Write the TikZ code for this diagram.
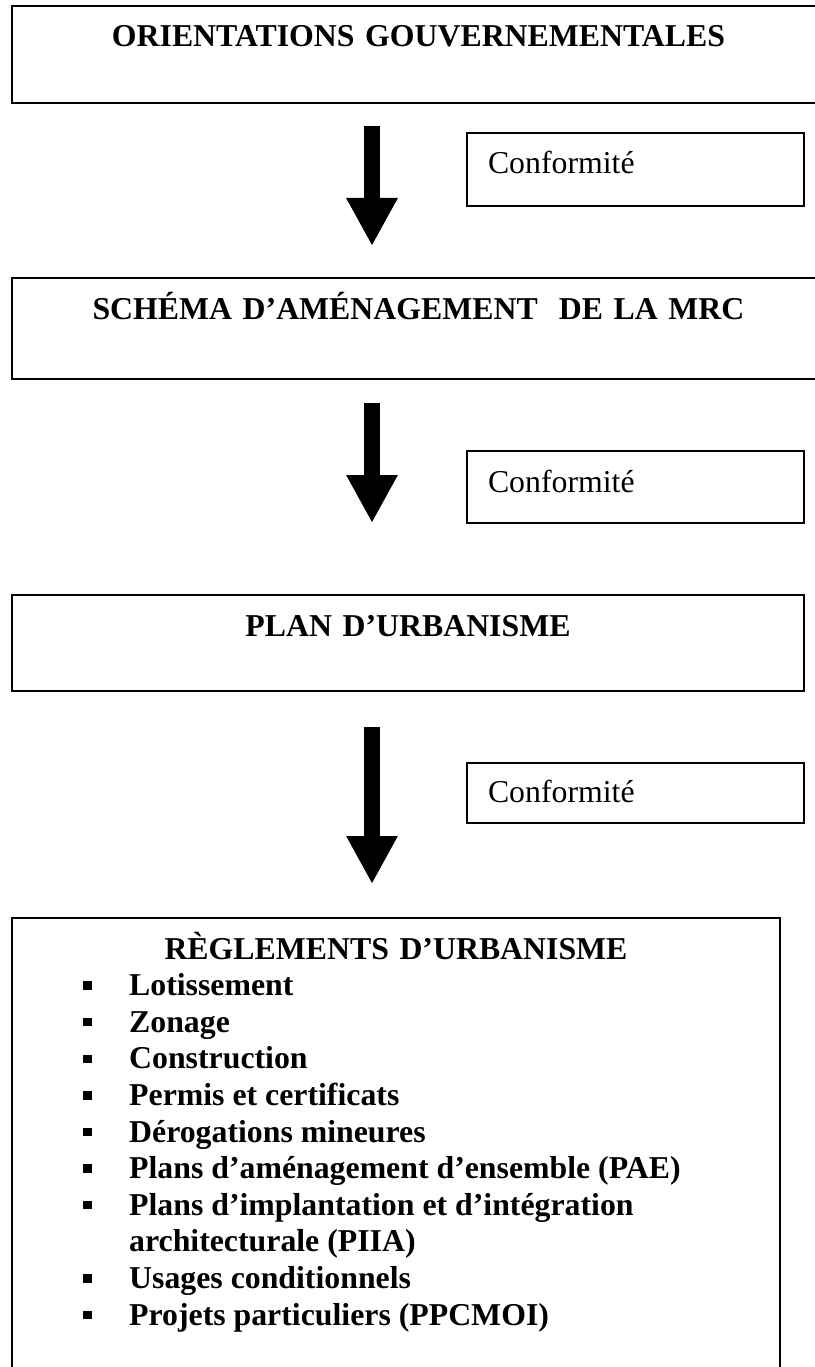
\documentclass[tikz,border=0pt]{standalone}
\usepackage{fontspec}
\setmainfont{Liberation Serif}
\usetikzlibrary{arrows.meta}

\newcommand{\taille}{\fontsize{31.8}{36.6}\selectfont}

\begin{document}
\begin{tikzpicture}[x=1pt, y=-1pt,
    cadre/.style={draw, line width=1.6pt, inner sep=0pt, outer sep=0pt, anchor=north west, align=center, font=\taille\bfseries},
    conf/.style={draw, line width=1.6pt, inner ysep=0pt, inner xsep=21pt, outer sep=0pt, anchor=north west, text width=295pt, align=left, font=\taille},
    fleche/.style={line width=16pt, -{Triangle[width=48pt, length=48pt]}},
    item/.style={anchor=base west, inner sep=0pt, font=\taille\bfseries},
    puce/.style={fill, inner sep=0pt, minimum size=8.5pt}]
    \useasboundingbox (0,0) rectangle (814,1367);
    \node[cadre, text width=813pt, text height=41pt, text depth=56pt] (og) at (12,6) {ORIENTATIONS GOUVERNEMENTALES};
    \node[cadre, text width=813pt, text height=41pt, text depth=60pt] (sa) at (12,278) {SCHÉMA D’AMÉNAGEMENT \ DE LA MRC};
    \node[cadre, text width=792pt, text height=41pt, text depth=55pt] (pu) at (12,595) {PLAN D’URBANISME};
    \node[cadre, text width=768pt, text height=41pt, text depth=480pt] (ru) at (12,918) {RÈGLEMENTS D’URBANISME};
    \node[conf, text height=41pt, text depth=32pt] (c1) at (467,133) {Conformité};
    \node[conf, text height=41pt, text depth=31pt] (c2) at (467,451) {Conformité};
    \node[conf, text height=39pt, text depth=21pt] (c3) at (467,763) {Conformité};
    \coordinate (a1) at (372,126);
    \coordinate (b1) at (372,246);
    \coordinate (a2) at (372,403);
    \coordinate (b2) at (372,523);
    \coordinate (a3) at (372,727);
    \coordinate (b3) at (372,884);
    \draw[fleche] (a1) -- (b1);
    \draw[fleche] (a2) -- (b2);
    \draw[fleche] (a3) -- (b3);
    \foreach \n/\p/\txt in {1/1/Lotissement, 2/1/Zonage, 3/1/Construction,
        4/1/Permis et certificats, 5/1/Dérogations mineures,
        6/1/Plans d’aménagement d’ensemble (PAE),
        7/1/Plans d’implantation et d’intégration, 8/0/architecturale (PIIA),
        9/1/Usages conditionnels, 10/1/Projets particuliers (PPCMOI)}{
        \node[item] (l\n) at (129, 959+36.6*\n) {\txt};
        \ifnum\p=1 \node[puce] (p\n) at (87.5, 949+36.6*\n) {};\fi
    }
\end{tikzpicture}
\end{document}
